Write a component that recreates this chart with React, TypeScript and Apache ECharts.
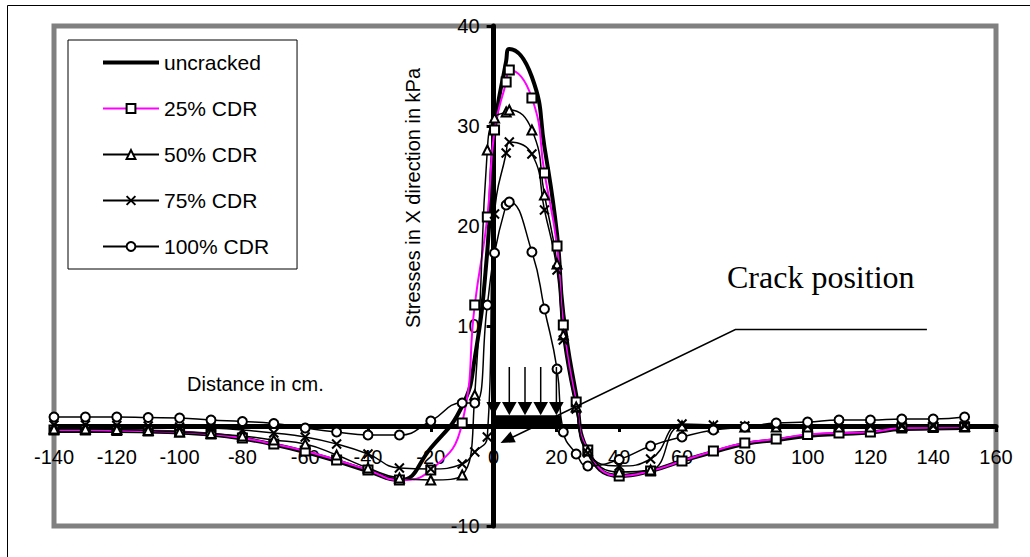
import React, { useEffect, useRef } from 'react';
import * as echarts from 'echarts';

// ---- data ----
const xValues = [-140, -130, -120, -110, -100, -90, -80, -70, -60, -50, -40, -30, -20, -10,
  -6, -2, 0.3, 4, 5, 12.2, 16.2, 20.2, 22.2, 26.3, 30,
  40, 50, 60, 70, 80, 90, 100, 110, 120, 130, 140, 150];

const uncracked = [-0.5, -0.5, -0.5, -0.55, -0.65, -0.85, -1.25, -1.85, -2.6, -3.5, -4.5, -5.4, -2.2, 2.0,
  6.8, 17.5, 29.5, 36.5, 37.7, 34.9, 27.9, 19.2, 11.2, 3.1, -2.5,
  -5.0, -4.5, -3.5, -2.6, -1.8, -1.4, -1.0, -0.8, -0.65, -0.3, -0.25, -0.2];

const cdr25 = [-0.4, -0.4, -0.45, -0.5, -0.6, -0.8, -1.2, -1.8, -2.5, -3.4, -4.4, -5.4, -4.4, 0.3,
  12.1, 20.9, 29.6, 34.4, 35.6, 32.8, 25.3, 18.0, 10.1, 2.4, -2.4,
  -5.0, -4.5, -3.5, -2.5, -1.7, -1.3, -0.85, -0.7, -0.6, -0.2, -0.15, -0.1];

const cdr50 = [-0.3, -0.3, -0.35, -0.45, -0.6, -0.75, -1.0, -1.4, -1.8, -2.9, -4.2, -5.2, -5.4, -4.9,
  3.1, 27.6, 30.8, 31.4, 31.6, 29.6, 23.1, 16.2, 9.1, 1.9, -2.5,
  -4.6, -4.4, 0, -0.1, -0.1, -0.1, -0.1, -0.1, -0.1, -0.05, -0.05, -0.05];

const cdr75 = [0.1, 0.1, 0.05, 0, -0.1, -0.2, -0.4, -0.7, -1.1, -1.8, -2.8, -4.2, -4.3, -3.8,
  -2.6, -1.1, 21.2, 27.3, 28.4, 27.2, 21.6, 15.6, 8.6, 1.7, -2.7,
  -4.0, -3.3, 0.2, 0.1, 0, 0, 0, 0, 0, 0, 0, 0];

const cdr100 = [0.9, 0.9, 0.9, 0.85, 0.8, 0.6, 0.45, 0.25, -0.2, -0.6, -0.9, -0.9, 0.5, 2.3,
  2.3, 12.1, 17.3, 22.1, 22.4, 17.4, 11.7, 5.7, -0.6, -2.8, -4.0,
  -3.35, -2.0, -1.1, -0.4, -0.1, 0.3, 0.4, 0.6, 0.6, 0.7, 0.7, 0.9];

const seriesNames = ['uncracked', '25% CDR', '50% CDR', '75% CDR', '100% CDR'];
const xAxisRange = { min: -140, max: 160, interval: 20 };
const yAxisRange = { min: -10, max: 40, interval: 10 };

// load (arrows) and crack annotation, in data units
const loadArrowX = [0, 5, 10, 15, 20];
const loadShaftTop = 5.9;
const loadHeadTop = 2.4;
const loadBarTop = 1.07;
const loadBarX = [-0.5, 21.5];
const crackTip = [2.2, -1.7];
const crackElbow = [77, 9.64];
const crackEnd = [138, 9.64];

const FONT = "'Liberation Sans', Arial, Helvetica, sans-serif";
const SERIF = "'Liberation Serif', 'Times New Roman', serif";

// layout
const W = 1030, H = 557;
const GRID = { left: 54, right: 34, top: 26, bottom: 31 };

const pairs = (ys: number[]) => xValues.map((x, i) => [x, ys[i]]);

export default function App() {
  const ref = useRef<HTMLDivElement>(null);

  useEffect(() => {
    const chart = echarts.init(ref.current!, null, { renderer: 'svg' });

    const gw = W - GRID.left - GRID.right;
    const gh = H - GRID.top - GRID.bottom;
    // axes cross at zero: shift them there with offset (labels follow)
    const xAxisOffset = -gh * (0 - yAxisRange.min) / (yAxisRange.max - yAxisRange.min);
    const yAxisOffset = -gw * (0 - xAxisRange.min) / (xAxisRange.max - xAxisRange.min);

    const common = {
      type: 'line' as const,
      smooth: 0.5,
      silent: true,
      emphasis: { disabled: true },
      symbolSize: 9,
    };

    chart.setOption({
      animation: false,
      backgroundColor: '#fff',
      grid: {
        ...GRID,
        show: true, borderColor: '#808080', borderWidth: 5, backgroundColor: 'transparent',
      },
      xAxis: {
        type: 'value',
        position: 'bottom',
        offset: xAxisOffset,
        min: xAxisRange.min, max: xAxisRange.max, interval: xAxisRange.interval,
        axisLine: { onZero: false, lineStyle: { color: '#000', width: 5 } },
        axisTick: { show: true, length: 6, lineStyle: { color: '#000', width: 3 } },
        axisLabel: { margin: 21, fontSize: 20, color: '#000', fontFamily: FONT },
        splitLine: { show: false },
      },
      yAxis: {
        type: 'value',
        position: 'left',
        offset: yAxisOffset,
        min: yAxisRange.min, max: yAxisRange.max, interval: yAxisRange.interval,
        axisLine: { onZero: false, lineStyle: { color: '#000', width: 5 } },
        axisTick: { show: true, length: 7, lineStyle: { color: '#000', width: 3 } },
        axisLabel: {
          margin: 14, fontSize: 20, color: '#000', fontFamily: FONT,
          formatter: (v: number) => (v === 0 ? '' : String(v)),
        },
        splitLine: { show: false },
      },
      legend: {
        orient: 'vertical',
        left: 68, top: 40,
        padding: [12, 28, 12, 34],
        itemGap: 25,
        itemWidth: 56,
        itemHeight: 11,
        borderColor: '#000', borderWidth: 1, backgroundColor: '#fff',
        selectedMode: false,
        textStyle: { fontFamily: FONT, fontSize: 21, color: '#000' },
        data: [
          { name: seriesNames[0], icon: 'path://M0,0H56V4H0Z' },
          seriesNames[1], seriesNames[2], seriesNames[3], seriesNames[4],
        ],
      },
      series: [
        {
          ...common, name: seriesNames[0], data: pairs(uncracked), symbol: 'none',
          lineStyle: { color: '#000', width: 4 }, itemStyle: { color: '#000' }, z: 2,
        },
        {
          ...common, name: seriesNames[1], data: pairs(cdr25), symbol: 'emptyRect',
          lineStyle: { color: '#ff00ff', width: 2 }, itemStyle: { color: '#000' }, z: 3,
        },
        {
          ...common, name: seriesNames[2], data: pairs(cdr50), symbol: 'emptyTriangle',
          lineStyle: { color: '#000', width: 1.5 }, itemStyle: { color: '#000' }, z: 3,
        },
        {
          ...common, name: seriesNames[3], data: pairs(cdr75), symbol: 'path://M0,0L10,10M10,0L0,10',
          lineStyle: { color: '#000', width: 1.5 },
          itemStyle: { color: '#000', borderColor: '#000', borderWidth: 2 }, z: 3,
        },
        {
          ...common, name: seriesNames[4], data: pairs(cdr100), symbol: 'emptyCircle',
          lineStyle: { color: '#000', width: 1.5 }, itemStyle: { color: '#000' }, z: 3,
        },
      ],
    });

    const p = (x: number, y: number) => chart.convertToPixel({ gridIndex: 0 }, [x, y]) as number[];

    const elements: any[] = [];

    // outer frame (left and top edges visible in the picture)
    elements.push({
      type: 'polyline', silent: true, z: 0,
      shape: { points: [[7.5, H], [7.5, 5.5], [W, 5.5]] },
      style: { fill: 'none', stroke: '#000', lineWidth: 1 },
    });

    // axis titles
    elements.push({
      type: 'text', silent: true, z: 50,
      x: 187, y: 384,
      style: { text: 'Distance in cm.', font: `20px ${FONT}`, fill: '#000', align: 'left', verticalAlign: 'middle' },
    });
    elements.push({
      type: 'text', silent: true, z: 50,
      x: 413, y: 198, rotation: Math.PI / 2,
      style: { text: 'Stresses in X direction in kPa', font: `20px ${FONT}`, fill: '#000', align: 'center', verticalAlign: 'middle' },
    });

    // load bar
    const b0 = p(loadBarX[0], loadBarTop);
    const b1 = p(loadBarX[1], 0);
    elements.push({
      type: 'rect', silent: true, z: 40,
      shape: { x: b0[0], y: b0[1], width: b1[0] - b0[0], height: b1[1] - b0[1] },
      style: { fill: '#000' },
    });
    // load arrows
    loadArrowX.forEach((x) => {
      const top = p(x, loadShaftTop);
      const head = p(x, loadHeadTop);
      const tip = p(x, loadBarTop);
      if (x !== 0) {
        elements.push({
          type: 'line', silent: true, z: 40,
          shape: { x1: top[0], y1: top[1], x2: head[0], y2: head[1] },
          style: { stroke: '#000', lineWidth: 1.5 },
        });
      }
      elements.push({
        type: 'polygon', silent: true, z: 40,
        shape: { points: [[head[0] - 7.3, head[1]], [head[0] + 7.3, head[1]], [tip[0], tip[1]]] },
        style: { fill: '#000' },
      });
    });

    // crack position annotation
    const tip = p(crackTip[0], crackTip[1]);
    const elbow = p(crackElbow[0], crackElbow[1]);
    const end = p(crackEnd[0], crackEnd[1]);
    const dx = tip[0] - elbow[0];
    const dy = tip[1] - elbow[1];
    const len = Math.hypot(dx, dy);
    const ux = dx / len, uy = dy / len;
    const nx = -uy, ny = ux;
    const hl = 14, hw = 6;
    const baseX = tip[0] - ux * hl, baseY = tip[1] - uy * hl;
    elements.push({
      type: 'polyline', silent: true, z: 45,
      shape: { points: [end, elbow, [baseX + ux * 3, baseY + uy * 3]] },
      style: { stroke: '#000', lineWidth: 1.5, fill: 'none' },
    });
    elements.push({
      type: 'polygon', silent: true, z: 45,
      shape: { points: [[tip[0], tip[1]], [baseX + nx * hw, baseY + ny * hw], [baseX - nx * hw, baseY - ny * hw]] },
      style: { fill: '#000' },
    });
    elements.push({
      type: 'text', silent: true, z: 45,
      x: 727, y: 277,
      style: { text: 'Crack position', font: `32px ${SERIF}`, fill: '#000', align: 'left', verticalAlign: 'middle' },
    });

    chart.setOption({ graphic: elements });

    return () => chart.dispose();
  }, []);

  return (
    <div
      ref={ref}
      style={{ position: 'fixed', left: 0, top: 0, width: W, height: H, background: '#fff' }}
    />
  );
}
